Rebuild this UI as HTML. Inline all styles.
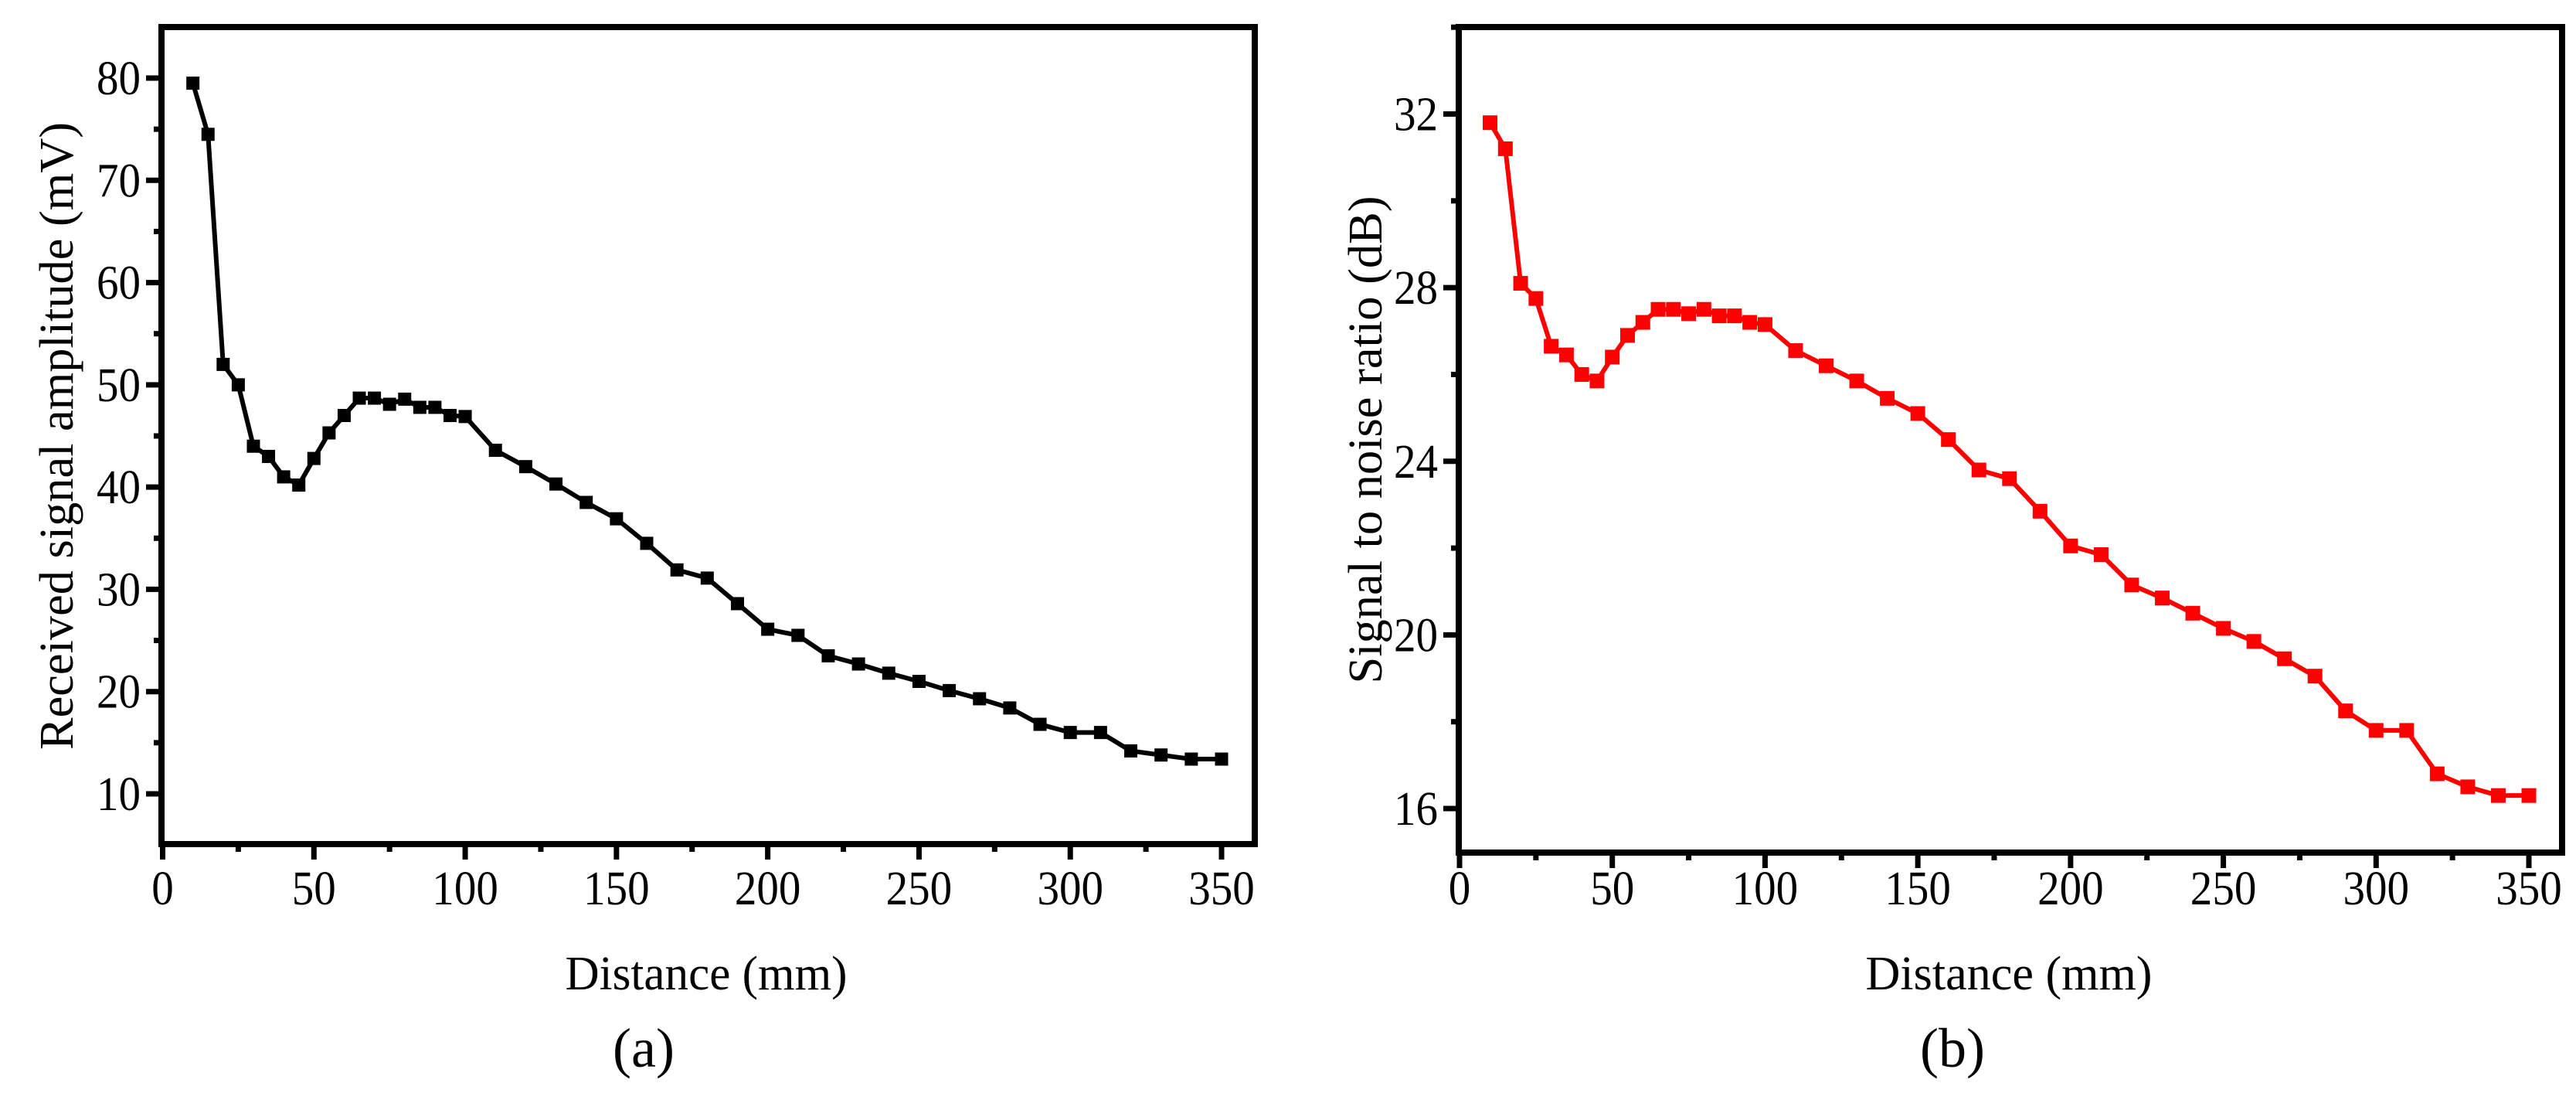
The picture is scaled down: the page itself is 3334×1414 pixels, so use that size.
<!DOCTYPE html>
<html><head><meta charset="utf-8"><style>
html,body{margin:0;padding:0;background:#fff;}
svg{display:block;}
text{font-family:"Liberation Serif",serif;fill:#000;}
</style></head><body>
<svg id="fig" width="3334" height="1414" viewBox="0 0 3334 1414" xmlns="http://www.w3.org/2000/svg">
<rect width="3334" height="1414" fill="#fff"/>
<g id="pa"></g>
<g id="pb"></g>
</svg>
<script>
const distances = [10,15,20,25,30,35,40,45,50,55,60,65,70,75,80,85,90,95,100,110,120,130,140,150,160,170,180,190,200,210,220,230,240,250,260,270,280,290,300,310,320,330,340,350];
const amplitude = [79.5,74.5,52,50,44,43,41,40.2,42.8,45.3,47,48.7,48.7,48.1,48.6,47.8,47.8,47,46.9,43.6,42,40.3,38.5,36.9,34.5,31.9,31.1,28.6,26.1,25.5,23.5,22.7,21.8,21,20.1,19.3,18.4,16.8,16,16,14.2,13.8,13.4,13.4];
const snr = [31.8,31.2,28.1,27.75,26.65,26.45,26.0,25.85,26.4,26.9,27.2,27.5,27.5,27.4,27.5,27.35,27.35,27.2,27.15,26.55,26.2,25.85,25.45,25.1,24.5,23.8,23.6,22.85,22.05,21.85,21.15,20.85,20.5,20.15,19.85,19.45,19.05,18.25,17.8,17.8,16.8,16.5,16.3,16.3];
const xTicks = [0,50,100,150,200,250,300,350];
const yTicksA = [10,20,30,40,50,60,70,80];
const yTicksB = [16,20,24,28,32];

const NS="http://www.w3.org/2000/svg";
function mk(parent,tag,attrs,txt){const e=document.createElementNS(NS,tag);for(const k in attrs)e.setAttribute(k,attrs[k]);if(txt!==undefined)e.textContent=txt;parent.appendChild(e);return e;}

function panel(g,cfg){
  const xs=v=>cfg.x0+(v-0)*(cfg.x350-cfg.x0)/350;
  const ys=v=>cfg.yA+(v-cfg.vA)*(cfg.yB-cfg.yA)/(cfg.vB-cfg.vA);
  for(let v=0;v<=350;v+=25){
    const major=v%50===0;
    const t=mk(g,'line',{x1:xs(v),x2:xs(v),y1:cfg.bottom,y2:cfg.bottom+(major?20:10),stroke:'#000','stroke-width':7});
    
    
  }
  xTicks.forEach(v=>{
    const t=mk(g,'text',{x:0,y:0,'font-size':62,'text-anchor':'middle',transform:`translate(${xs(v)},1170) scale(0.92,1)`},String(v));
    
    
  });
  for(let v=cfg.yMinorStart;v<=cfg.yMax;v+=cfg.yMinor){
    const major=cfg.yTicks.includes(v);
    const t=mk(g,'line',{x1:cfg.left-(major?20:10),x2:cfg.left,y1:ys(v),y2:ys(v),stroke:'#000','stroke-width':7});
    
    
  }
  cfg.yTicks.forEach(v=>{
    const t=mk(g,'text',{x:0,y:0,'font-size':62,'text-anchor':'end',transform:`translate(${cfg.left-27},${ys(v)+21}) scale(0.92,1)`},String(v));
    
    
  });
  const f=mk(g,'rect',{x:cfg.left,y:cfg.top,width:cfg.right-cfg.left,height:cfg.bottom-cfg.top,fill:'none',stroke:'#000','stroke-width':8});
  
  
  const pts=distances.map((d,i)=>xs(d)+','+ys(cfg.values[i])).join(' ');
  const pl=mk(g,'polyline',{points:pts,fill:'none',stroke:cfg.color,'stroke-width':6,'stroke-linejoin':'round'});
  
  
  distances.forEach((d,i)=>{
    const s=cfg.ms;
    const r=mk(g,'rect',{x:xs(d)-s/2,y:ys(cfg.values[i])-s/2,width:s,height:s,fill:cfg.color});
    
    
  });
  const xt=mk(g,'text',{x:cfg.xtX,y:1280,'font-size':62,'text-anchor':'middle',textLength:cfg.xtLen,lengthAdjust:'spacingAndGlyphs'},'Distance (mm)');
  
  
  const yt=mk(g,'text',{x:0,y:0,'font-size':62,'text-anchor':'middle',textLength:cfg.ytLen,lengthAdjust:'spacingAndGlyphs',transform:`translate(${cfg.ytX},${cfg.ytY}) rotate(-90)`},cfg.ytitle);
  
  
  const cap=mk(g,'text',{x:cfg.capX,y:1380,'font-size':72,'text-anchor':'middle'},cfg.cap);
  
  
}

panel(document.getElementById('pa'),{
  left:209,right:1624,top:35,bottom:1092,x0:210.5,x350:1581,
  vA:80,yA:101,vB:10,yB:1027,yTicks:yTicksA,yMinor:5,yMinorStart:10,yMax:80,
  values:amplitude,color:'#000',ms:17,
  xtX:914,xtLen:365,ytX:94,ytY:564,ytLen:812,ytitle:'Received signal amplitude (mV)',
  capX:833,cap:'(a)'
});
panel(document.getElementById('pb'),{
  left:1888,right:3316,top:35,bottom:1103,x0:1889,x350:3273,
  vA:32,yA:147.5,vB:16,yB:1046,yTicks:yTicksB,yMinor:2,yMinorStart:16,yMax:34,
  values:snr,color:'#ff0000',ms:19,
  xtX:2600,xtLen:371,ytX:1788,ytY:569,ytLen:631,ytitle:'Signal to noise ratio (dB)',
  capX:2527,cap:'(b)'
});
</script>
</body></html>
